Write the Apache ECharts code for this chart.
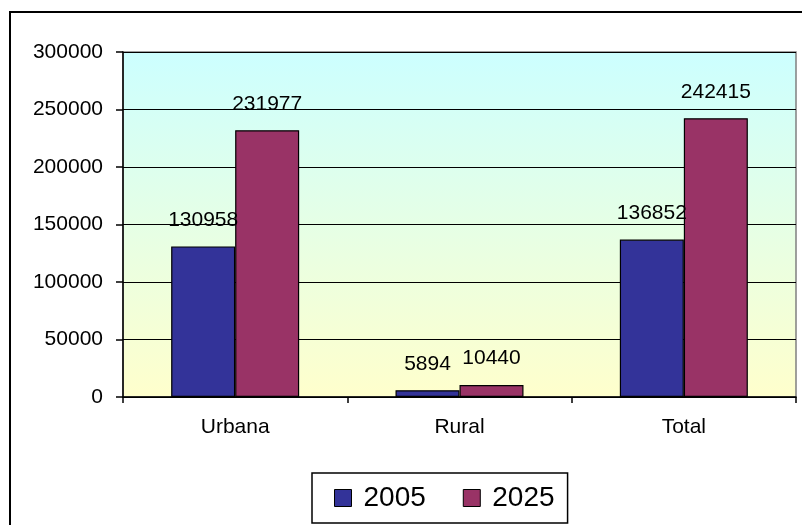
<!DOCTYPE html>
<html>
<head>
<meta charset="utf-8">
<script src="https://cdn.jsdelivr.net/npm/echarts@6/dist/echarts.min.js"></script>
<style>
html,body{margin:0;padding:0;background:#fff;}
#chart{width:802px;height:525px;}
</style>
</head>
<body>
<div id="chart"></div>
<script>
var categories = ['Urbana', 'Rural', 'Total'];
var seriesNames = ['2005', '2025'];
var values2005 = [130958, 5894, 136852];
var values2025 = [231977, 10440, 242415];
var yTicks = [0, 50000, 100000, 150000, 200000, 250000, 300000];

var FONT = 'Arial, "Liberation Sans", sans-serif';
var chart = echarts.init(document.getElementById('chart'), null, {renderer: 'canvas'});

function mkLabel() {
  return {
    show: true,
    position: 'top',
    distance: 16,
    color: '#000',
    fontFamily: FONT,
    fontSize: 21
  };
}

chart.setOption({
  animation: false,
  backgroundColor: '#fff',
  graphic: [{
    type: 'rect',
    shape: {x: 10, y: 12, width: 800, height: 530},
    style: {fill: 'none', stroke: '#000', lineWidth: 2},
    z: 100
  }],
  grid: {
    left: 123, right: 6, top: 52, bottom: 128,
    show: true,
    borderColor: '#808080',
    borderWidth: 1.5,
    backgroundColor: {
      type: 'linear', x: 0, y: 0, x2: 0, y2: 1,
      colorStops: [{offset: 0, color: '#CCFFFF'}, {offset: 1, color: '#FFFFCC'}]
    }
  },
  legend: {
    data: seriesNames,
    left: 312,
    top: 473,
    orient: 'horizontal',
    padding: [11, 13, 11, 22],
    itemGap: 37,
    itemWidth: 17,
    itemHeight: 17,
    icon: 'rect',
    borderColor: '#000',
    borderWidth: 1.5,
    backgroundColor: '#fff',
    itemStyle: {borderColor: '#000', borderWidth: 1},
    textStyle: {color: '#000', fontFamily: FONT, fontSize: 28, padding: [0, 0, 0, 7]}
  },
  xAxis: {
    type: 'category',
    data: categories,
    axisLine: {show: true, lineStyle: {color: '#000', width: 1.5}},
    axisTick: {show: true, alignWithLabel: false, length: 6, lineStyle: {color: '#000', width: 1.5}},
    axisLabel: {color: '#000', fontFamily: FONT, fontSize: 21, margin: 20},
    splitLine: {show: false}
  },
  yAxis: {
    type: 'value',
    min: yTicks[0],
    max: yTicks[yTicks.length - 1],
    interval: yTicks[1] - yTicks[0],
    axisLine: {show: true, lineStyle: {color: '#000', width: 1.5}},
    axisTick: {show: true, length: 7, lineStyle: {color: '#000', width: 1.5}},
    axisLabel: {
      color: '#000', fontFamily: FONT, fontSize: 21, margin: 20,
      formatter: function (v) { return String(v); }
    },
    splitLine: {show: true, lineStyle: {color: '#000', width: 1.2}}
  },
  series: [{
    name: seriesNames[0],
    type: 'bar',
    data: values2005,
    barWidth: 64,
    barGap: '0%',
    itemStyle: {color: '#333399', borderColor: '#000', borderWidth: 1.2},
    label: mkLabel()
  }, {
    name: seriesNames[1],
    type: 'bar',
    data: values2025,
    barWidth: 64,
    barGap: '0%',
    itemStyle: {color: '#993366', borderColor: '#000', borderWidth: 1.2},
    label: mkLabel()
  }]
});
</script>
</body>
</html>
